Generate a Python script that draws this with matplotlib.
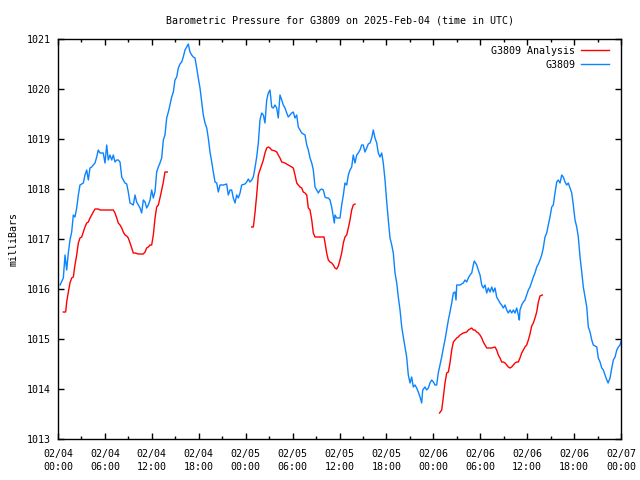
import numpy as np
import matplotlib
matplotlib.use("Agg")
import matplotlib.pyplot as plt
from datetime import datetime, timedelta


# data (hours since 2025-02-04 00:00 UTC, mbar)
obs_hours = [0.26, 0.68, 0.90, 1.11, 1.32, 1.53, 1.75, 1.96, 2.17, 2.39, 2.60, 2.81, 3.24, 3.45, 3.67,
             3.88, 4.09, 4.31, 4.51, 4.73, 4.95, 5.15, 5.37, 5.79, 6.01, 6.23, 6.43, 6.65, 6.87, 7.07,
             7.29, 7.51, 7.71, 7.93, 8.15, 8.35, 8.57, 8.79, 8.99, 9.21, 9.63, 9.85, 10.06, 10.27, 10.49,
             10.70, 10.91, 11.13, 11.34, 11.55, 11.77, 11.98, 12.19, 12.41, 12.62, 12.83, 13.04, 13.26,
             13.47, 13.68, 13.90, 14.11, 14.32, 14.54, 14.75, 14.96, 15.18, 15.39, 15.60, 15.82, 16.02,
             16.24, 16.46, 16.66, 16.88, 17.10, 17.30, 17.52, 17.74, 17.94, 18.16, 18.38, 18.58, 18.80,
             19.02, 19.22, 19.44, 19.66, 19.86, 20.08, 20.30, 20.50, 20.72, 21.14, 21.57, 21.78, 22.00,
             22.21, 22.42, 22.64, 22.85, 23.06, 23.28, 23.49, 23.91, 24.13, 24.34, 24.55, 24.77, 24.98,
             25.19, 25.41, 25.62, 25.83, 26.05, 26.26, 26.47, 26.69, 26.90, 27.11, 27.33, 27.53, 27.75,
             27.97, 28.17, 28.39, 28.61, 28.81, 29.03, 29.25, 29.45, 29.67, 29.89, 30.09, 30.31, 30.53,
             30.73, 30.95, 31.17, 31.59, 31.81, 32.01, 32.23, 32.45, 32.65, 32.87, 33.08, 33.29, 33.51,
             33.72, 33.93, 34.15, 34.36, 34.57, 34.79, 35.00, 35.21, 35.34, 35.42, 35.64, 36.06, 36.28,
             36.49, 36.70, 36.92, 37.13, 37.34, 37.56, 37.76, 37.98, 38.20, 38.40, 38.62, 38.84, 39.04,
             39.26, 39.48, 39.68, 39.90, 40.12, 40.32, 40.54, 40.76, 40.96, 41.18, 41.40, 41.60, 41.82,
             42.04, 42.24, 42.46, 42.68, 42.88, 43.10, 43.32, 43.52, 43.74, 43.96, 44.16, 44.38, 44.59,
             44.80, 45.02, 45.23, 45.44, 45.66, 45.87, 46.08, 46.30, 46.51, 46.64, 46.93, 47.15, 47.36,
             47.57, 47.79, 48.00, 48.21, 48.43, 48.63, 48.85, 49.07, 49.28, 49.49, 49.71, 49.92, 50.13,
             50.35, 50.56, 50.77, 50.90, 50.99, 51.42, 51.83, 52.05, 52.27, 52.47, 52.69, 52.91, 53.11,
             53.24, 53.55, 53.75, 53.97, 54.19, 54.39, 54.61, 54.83, 55.03, 55.25, 55.47, 55.67, 55.89,
             56.10, 56.31, 56.53, 56.74, 56.95, 57.17, 57.38, 57.59, 57.80, 58.02, 58.23, 58.44, 58.66,
             58.87, 59.00, 59.08, 59.30, 59.51, 59.72, 59.94, 60.15, 60.36, 60.58, 60.79, 61.00, 61.22,
             61.43, 61.64, 61.86, 62.06, 62.28, 62.50, 62.70, 62.92, 63.14, 63.34, 63.56, 63.78, 63.98,
             64.20, 64.42, 64.62, 64.84, 65.06, 65.26, 65.48, 65.70, 65.90, 66.12, 66.34, 66.54, 66.76,
             66.98, 67.18, 67.40, 67.62, 67.82, 68.04, 68.26, 68.46, 68.90, 69.10, 69.32, 69.54, 69.74,
             70.09, 70.35, 70.60, 70.82, 71.02, 71.24, 71.46, 71.66, 71.88, 72.00]
obs_mbar = [1016.08, 1016.22, 1016.68, 1016.38, 1016.72, 1016.98, 1017.14, 1017.48, 1017.44, 1017.62,
            1017.88, 1018.08, 1018.12, 1018.28, 1018.38, 1018.18, 1018.42, 1018.44, 1018.48, 1018.52,
            1018.64, 1018.78, 1018.72, 1018.72, 1018.52, 1018.88, 1018.58, 1018.68, 1018.58, 1018.68,
            1018.54, 1018.58, 1018.58, 1018.54, 1018.24, 1018.18, 1018.12, 1018.10, 1017.94, 1017.72,
            1017.68, 1017.88, 1017.74, 1017.68, 1017.62, 1017.52, 1017.78, 1017.74, 1017.62, 1017.68,
            1017.78, 1017.98, 1017.82, 1017.95, 1018.34, 1018.44, 1018.52, 1018.62, 1018.98, 1019.08,
            1019.42, 1019.54, 1019.68, 1019.84, 1019.94, 1020.18, 1020.24, 1020.42, 1020.50, 1020.54,
            1020.64, 1020.78, 1020.84, 1020.90, 1020.74, 1020.68, 1020.64, 1020.62, 1020.42, 1020.22,
            1020.02, 1019.74, 1019.48, 1019.32, 1019.22, 1019.02, 1018.74, 1018.54, 1018.34, 1018.14,
            1018.12, 1017.94, 1018.08, 1018.08, 1018.10, 1017.88, 1017.98, 1017.98, 1017.82, 1017.72,
            1017.88, 1017.82, 1017.92, 1018.08, 1018.10, 1018.14, 1018.20, 1018.14, 1018.18, 1018.24,
            1018.42, 1018.64, 1018.92, 1019.38, 1019.52, 1019.48, 1019.32, 1019.78, 1019.92, 1019.98,
            1019.64, 1019.62, 1019.68, 1019.62, 1019.42, 1019.88, 1019.78, 1019.68, 1019.62, 1019.52,
            1019.44, 1019.48, 1019.52, 1019.54, 1019.42, 1019.48, 1019.24, 1019.18, 1019.12, 1019.08,
            1018.88, 1018.78, 1018.62, 1018.52, 1018.38, 1018.04, 1017.98, 1017.92, 1017.98, 1018.00,
            1017.98, 1017.84, 1017.82, 1017.82, 1017.78, 1017.64, 1017.44, 1017.32, 1017.48, 1017.42,
            1017.42, 1017.68, 1017.88, 1018.12, 1018.08, 1018.28, 1018.38, 1018.44, 1018.68, 1018.52,
            1018.68, 1018.72, 1018.78, 1018.88, 1018.88, 1018.74, 1018.82, 1018.90, 1018.92, 1019.02,
            1019.18, 1019.02, 1018.92, 1018.72, 1018.64, 1018.72, 1018.52, 1018.18, 1017.74, 1017.38,
            1017.02, 1016.88, 1016.72, 1016.32, 1016.12, 1015.84, 1015.58, 1015.24, 1015.04, 1014.84,
            1014.64, 1014.28, 1014.12, 1014.24, 1014.04, 1014.08, 1014.02, 1013.94, 1013.84, 1013.72,
            1013.98, 1014.04, 1013.98, 1014.02, 1014.12, 1014.18, 1014.14, 1014.08, 1014.08, 1014.32,
            1014.48, 1014.64, 1014.82, 1014.98, 1015.18, 1015.38, 1015.54, 1015.72, 1015.92, 1015.94,
            1015.78, 1016.08, 1016.08, 1016.12, 1016.18, 1016.14, 1016.22, 1016.28, 1016.32, 1016.48,
            1016.56, 1016.48, 1016.38, 1016.28, 1016.08, 1016.02, 1016.08, 1015.92, 1016.02, 1015.94,
            1016.04, 1015.94, 1016.02, 1015.84, 1015.78, 1015.72, 1015.68, 1015.62, 1015.68, 1015.58,
            1015.52, 1015.58, 1015.52, 1015.58, 1015.52, 1015.62, 1015.48, 1015.38, 1015.58, 1015.68,
            1015.74, 1015.78, 1015.88, 1015.98, 1016.04, 1016.14, 1016.24, 1016.32, 1016.44, 1016.50,
            1016.58, 1016.68, 1016.82, 1017.04, 1017.12, 1017.28, 1017.44, 1017.64, 1017.68, 1017.92,
            1018.14, 1018.18, 1018.12, 1018.28, 1018.24, 1018.14, 1018.08, 1018.12, 1018.02, 1017.92,
            1017.68, 1017.38, 1017.24, 1017.04, 1016.64, 1016.34, 1016.04, 1015.84, 1015.64, 1015.24,
            1015.14, 1014.98, 1014.88, 1014.84, 1014.62, 1014.54, 1014.42, 1014.38, 1014.22, 1014.12,
            1014.22, 1014.42, 1014.58, 1014.64, 1014.78, 1014.84, 1014.88, 1014.95]

# analysis comes in three separate runs
ana1_hours = [0.68, 0.98, 1.11, 1.32, 1.53, 1.75, 1.96, 2.17, 2.39, 2.60, 2.81, 3.03, 3.24, 3.45, 3.67,
              3.88, 4.09, 4.31, 4.51, 4.73, 5.15, 5.37, 7.07, 7.29, 7.51, 7.71, 7.93, 8.15, 8.35, 8.57,
              8.79, 8.99, 9.21, 9.43, 9.63, 9.85, 10.27, 10.91, 11.13, 11.34, 11.55, 11.77, 11.98, 12.19,
              12.41, 12.62, 12.83, 13.04, 13.26, 13.47, 13.68, 13.98]
ana1_mbar = [1015.54, 1015.54, 1015.74, 1015.94, 1016.12, 1016.22, 1016.24, 1016.48, 1016.68, 1016.92,
             1017.02, 1017.04, 1017.14, 1017.24, 1017.32, 1017.34, 1017.42, 1017.48, 1017.54, 1017.60,
             1017.60, 1017.58, 1017.58, 1017.52, 1017.42, 1017.32, 1017.28, 1017.22, 1017.14, 1017.08,
             1017.06, 1017.02, 1016.92, 1016.82, 1016.72, 1016.72, 1016.70, 1016.70, 1016.74, 1016.82,
             1016.84, 1016.88, 1016.88, 1017.08, 1017.42, 1017.64, 1017.68, 1017.82, 1017.98, 1018.14,
             1018.34, 1018.34]

ana2_hours = [24.77, 24.98, 25.19, 25.41, 25.62, 25.83, 26.05, 26.26, 26.47, 26.69, 26.90, 27.11, 27.33,
              27.75, 27.97, 28.17, 28.39, 28.61, 29.03, 29.45, 29.89, 30.09, 30.31, 30.53, 30.73, 30.95,
              31.17, 31.37, 31.59, 31.81, 32.01, 32.23, 32.45, 32.65, 32.87, 34.02, 34.15, 34.36, 34.57,
              34.79, 35.00, 35.21, 35.42, 35.64, 35.85, 36.06, 36.28, 36.49, 36.70, 36.92, 37.13, 37.34,
              37.56, 37.76, 37.98]
ana2_mbar = [1017.24, 1017.24, 1017.52, 1017.88, 1018.28, 1018.38, 1018.48, 1018.58, 1018.72, 1018.82,
             1018.84, 1018.82, 1018.78, 1018.76, 1018.74, 1018.68, 1018.62, 1018.54, 1018.52, 1018.48,
             1018.44, 1018.42, 1018.28, 1018.12, 1018.08, 1018.04, 1018.02, 1017.94, 1017.92, 1017.88,
             1017.62, 1017.58, 1017.38, 1017.12, 1017.04, 1017.04, 1016.92, 1016.72, 1016.58, 1016.54,
             1016.52, 1016.48, 1016.42, 1016.40, 1016.46, 1016.58, 1016.72, 1016.92, 1017.04, 1017.08,
             1017.22, 1017.38, 1017.58, 1017.68, 1017.70]

ana3_hours = [48.79, 49.07, 49.28, 49.49, 49.71, 49.92, 50.13, 50.35, 50.56, 50.77, 50.99, 51.19, 51.41,
              51.83, 52.27, 52.47, 52.69, 52.91, 53.11, 53.32, 53.55, 53.75, 53.97, 54.19, 54.39, 54.61,
              54.83, 55.47, 55.89, 56.10, 56.31, 56.53, 56.74, 56.95, 57.17, 57.38, 57.59, 57.80, 58.02,
              58.23, 58.44, 58.66, 58.87, 59.08, 59.30, 59.51, 59.72, 59.94, 60.15, 60.36, 60.58, 60.79,
              61.00, 61.22, 61.43, 61.64, 61.94]
ana3_mbar = [1013.52, 1013.58, 1013.84, 1014.12, 1014.32, 1014.34, 1014.52, 1014.78, 1014.94, 1014.98,
             1015.02, 1015.04, 1015.08, 1015.12, 1015.14, 1015.18, 1015.20, 1015.22, 1015.18, 1015.18,
             1015.14, 1015.12, 1015.08, 1015.02, 1014.94, 1014.88, 1014.82, 1014.82, 1014.84, 1014.78,
             1014.68, 1014.62, 1014.54, 1014.54, 1014.52, 1014.48, 1014.44, 1014.42, 1014.44, 1014.48,
             1014.52, 1014.54, 1014.54, 1014.62, 1014.72, 1014.78, 1014.84, 1014.88, 1014.98, 1015.10,
             1015.26, 1015.32, 1015.42, 1015.54, 1015.74, 1015.86, 1015.88]

start = datetime(2025, 2, 4, 0, 0)
tick_hours = list(range(0, 73, 6))
tick_labels = [(start + timedelta(hours=h)).strftime("%m/%d\n%H:%M") for h in tick_hours]

blue = "#0a84ff"
red = "#ff0000"
font = "DejaVu Sans Mono"
fs = 7.2

plt.rcParams['font.family'] = font
plt.rcParams['font.size'] = fs

fig = plt.figure(figsize=(6.4, 4.8), dpi=100)
ax = fig.add_axes([58 / 640, 41 / 480, 563 / 640, 400 / 480])

ax.plot(ana1_hours, ana1_mbar, color=red, lw=1.0, label="G3809 Analysis")
ax.plot(ana2_hours, ana2_mbar, color=red, lw=1.0)
ax.plot(ana3_hours, ana3_mbar, color=red, lw=1.0)
ax.plot(obs_hours, obs_mbar, color=blue, lw=1.0, label="G3809")

ax.set_xlim(0, 72)
ax.set_ylim(1013, 1021)
ax.set_xticks(tick_hours)
ax.set_xticklabels(tick_labels, linespacing=1.45)
ax.set_xticks(np.arange(3, 72, 6), minor=True)
ax.set_yticks(range(1013, 1022))

ax.tick_params(which='both', direction='in', top=True, right=True, labelsize=fs, width=1.0)
ax.tick_params(which='major', length=4)
ax.tick_params(which='minor', length=2.2)
ax.tick_params(axis='x', pad=7)
ax.tick_params(axis='y', pad=5)
for s in ax.spines.values():
    s.set_linewidth(1.0)

ax.set_title("Barometric Pressure for G3809 on 2025-Feb-04 (time in UTC)", fontsize=fs, pad=11.5)
ax.set_ylabel("milliBars", fontsize=fs, labelpad=6)

ax.legend(loc="upper right", bbox_to_anchor=(1 - 5 / 563, 1.0), frameon=False, markerfirst=False,
          fontsize=fs, handlelength=2.8, handletextpad=0.6, labelspacing=0.4, borderaxespad=0.3)

fig.savefig("out.png", dpi=100)
